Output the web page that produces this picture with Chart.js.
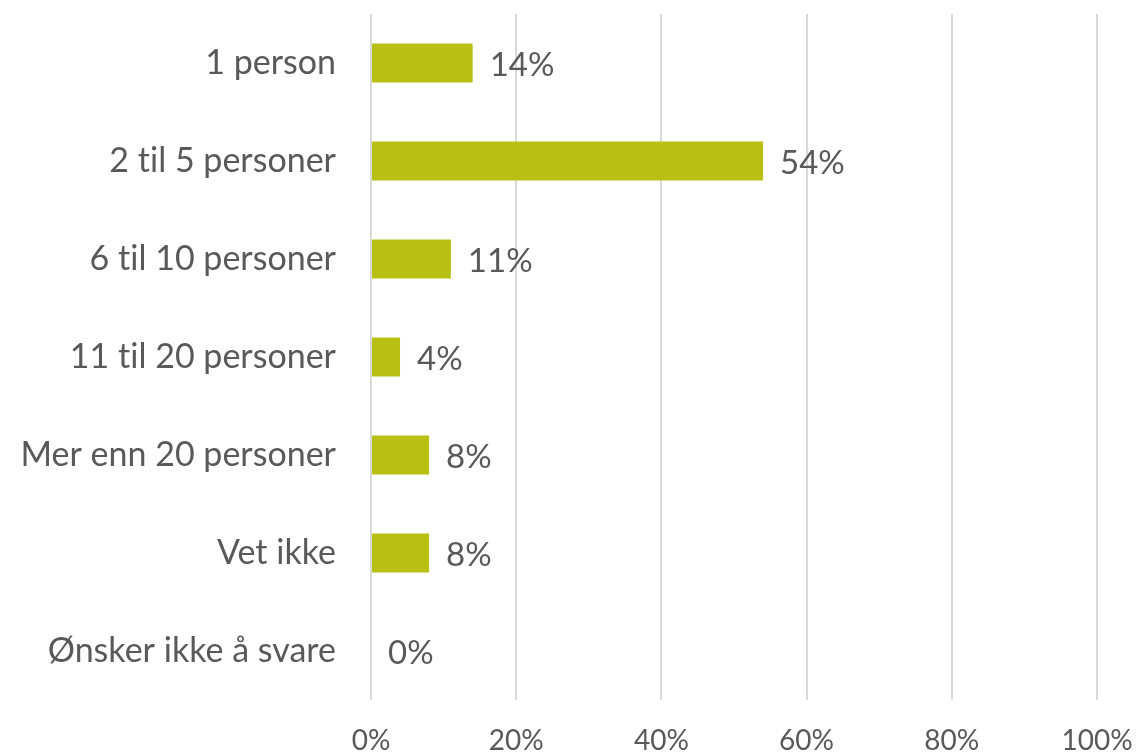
<!DOCTYPE html>
<html>
<head>
<meta charset="utf-8">
<script src="https://cdn.jsdelivr.net/npm/chart.js@4/dist/chart.umd.min.js"></script>
<style>
  html, body { margin: 0; padding: 0; background: #fff; }
  #wrap { width: 1137px; height: 752px; }
</style>
</head>
<body>
<div id="wrap"><canvas id="chart" width="1137" height="752"></canvas></div>
<script>
// ── Données ──
const categories = ['1 person', '2 til 5 personer', '6 til 10 personer', '11 til 20 personer',
  'Mer enn 20 personer', 'Vet ikke', 'Ønsker ikke å svare'];
const values = [14, 54, 11, 4, 8, 8, 0];
const xTicks = [0, 20, 40, 60, 80, 100];

const textColor = '#595959';
const fontFamily = 'Lato, "Open Sans", sans-serif';

// pas de ligature "ti" de Lato
const noLigatures = {
  id: 'noLigatures',
  beforeDraw(chart) {
    chart.ctx.textRendering = 'optimizeSpeed';
    chart.ctx.letterSpacing = '0.01px';
  }
};

// étiquettes de valeur à droite des barres
const valueLabels = {
  id: 'valueLabels',
  afterDatasetsDraw(chart) {
    const ctx = chart.ctx;
    const meta = chart.getDatasetMeta(0);
    ctx.save();
    ctx.fillStyle = textColor;
    ctx.font = '33px ' + fontFamily;
    ctx.textAlign = 'left';
    ctx.textBaseline = 'middle';
    meta.data.forEach((bar, i) => {
      ctx.fillText(values[i] + '%', bar.x + 17, bar.y + 2);
    });
    ctx.restore();
  }
};

function noPadding(scale) {
  scale.paddingTop = 0;
  scale.paddingBottom = 0;
  scale.paddingLeft = 0;
  scale.paddingRight = 0;
}

new Chart(document.getElementById('chart'), {
  type: 'bar',
  data: {
    labels: categories,
    datasets: [{
      data: values,
      backgroundColor: '#B8C014',
      barPercentage: 0.4,
      categoryPercentage: 1.0,
    }],
  },
  options: {
    indexAxis: 'y',
    responsive: false,
    animation: false,
    layout: { padding: { top: 14, right: 40, left: 0, bottom: 0 } },
    plugins: { legend: { display: false }, tooltip: { enabled: false } },
    scales: {
      x: {
        min: 0, max: 100,
        afterBuildTicks: (scale) => { scale.ticks = xTicks.map(v => ({ value: v })); },
        afterFit: (scale) => { scale.height = 52; noPadding(scale); },
        grid: { color: '#D9D9D9', lineWidth: 2, drawTicks: false },
        border: { display: false },
        ticks: {
          padding: 24,
          color: textColor,
          font: { family: fontFamily, size: 28 },
          maxRotation: 0,
          callback: (v) => v + '%',
        },
      },
      y: {
        afterFit: (scale) => { scale.width = 371; noPadding(scale); },
        grid: { display: false, drawTicks: false },
        border: { display: false },
        ticks: {
          padding: 35,
          color: textColor,
          font: { family: fontFamily, size: 34 },
        },
      },
    },
  },
  plugins: [noLigatures, valueLabels],
});
</script>
</body>
</html>
